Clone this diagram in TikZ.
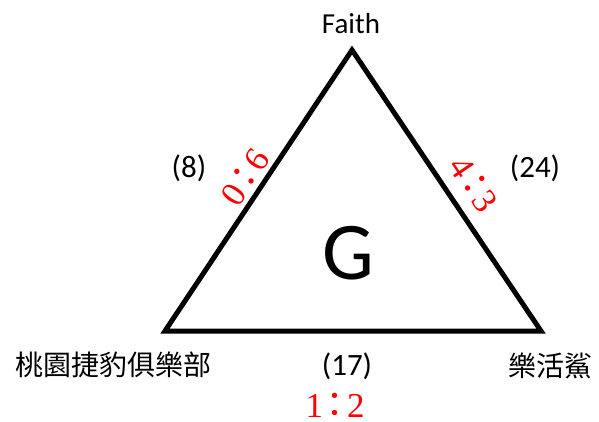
\documentclass[tikz,border=0pt]{standalone}
\usepackage{fontspec}
\setmainfont{Carlito}
\newfontfamily\cjk{Noto Sans CJK TC}
\newfontfamily\ratiofont{Liberation Serif}
% score of one game, written with a wide colon
\newcommand\gamescore[2]{#1\hspace{6pt}\makebox[12pt]{\cjk ：}\hspace{6pt}#2}

\begin{document}
\begin{tikzpicture}[
    x=1pt, y=-1pt,
    edge/.style  = {line width=5pt, black, line join=miter},
    team/.style  = {font=\fontsize{29}{32}\selectfont, inner sep=0pt},
    points/.style = {font=\fontsize{31}{34}\selectfont, inner sep=0pt},
    ratio/.style = {red, font=\ratiofont\fontsize{35}{38}\selectfont, inner sep=0pt},
  ]
  \useasboundingbox (0,0) rectangle (599,422);

  % --- the triangle, one corner for each team ------------------------------
  \coordinate (faithc)   at (352,50);
  \coordinate (taoyuanc) at (165,331);
  \coordinate (sharkc)   at (541,331);
  \draw[edge] (faithc) -- (taoyuanc) -- (sharkc) -- cycle;

  \node[font=\fontsize{82}{90}\selectfont, inner sep=0pt] (group) at (348,253) {G};

  % --- team names ----------------------------------------------------------
  \node[team] (faith)   at (351,24)  {Faith};
  \node[team, font=\fontsize{28}{32}\selectfont] (taoyuan) at (113,365) {\cjk 桃園捷豹俱樂部};
  \node[team, font=\fontsize{28}{32}\selectfont] (shark)   at (550,366) {\cjk 樂活鯊};

  % --- points next to each side --------------------------------------------
  \node[points] (leftpts)   at (189,168) {(8)};
  \node[points] (rightpts)  at (535,168) {(24)};
  \node[points] (bottompts) at (347,366) {(17)};

  % --- results along the sides ---------------------------------------------
  \node[ratio, rotate=56]  (leftscore)   at (245,177) {\gamescore{0}{6}};
  \node[ratio, rotate=-56] (rightscore)  at (474,184) {\gamescore{4}{3}};
  \node[ratio]             (bottomscore) at (335,405) {\gamescore{1}{2}};

\end{tikzpicture}
\end{document}
